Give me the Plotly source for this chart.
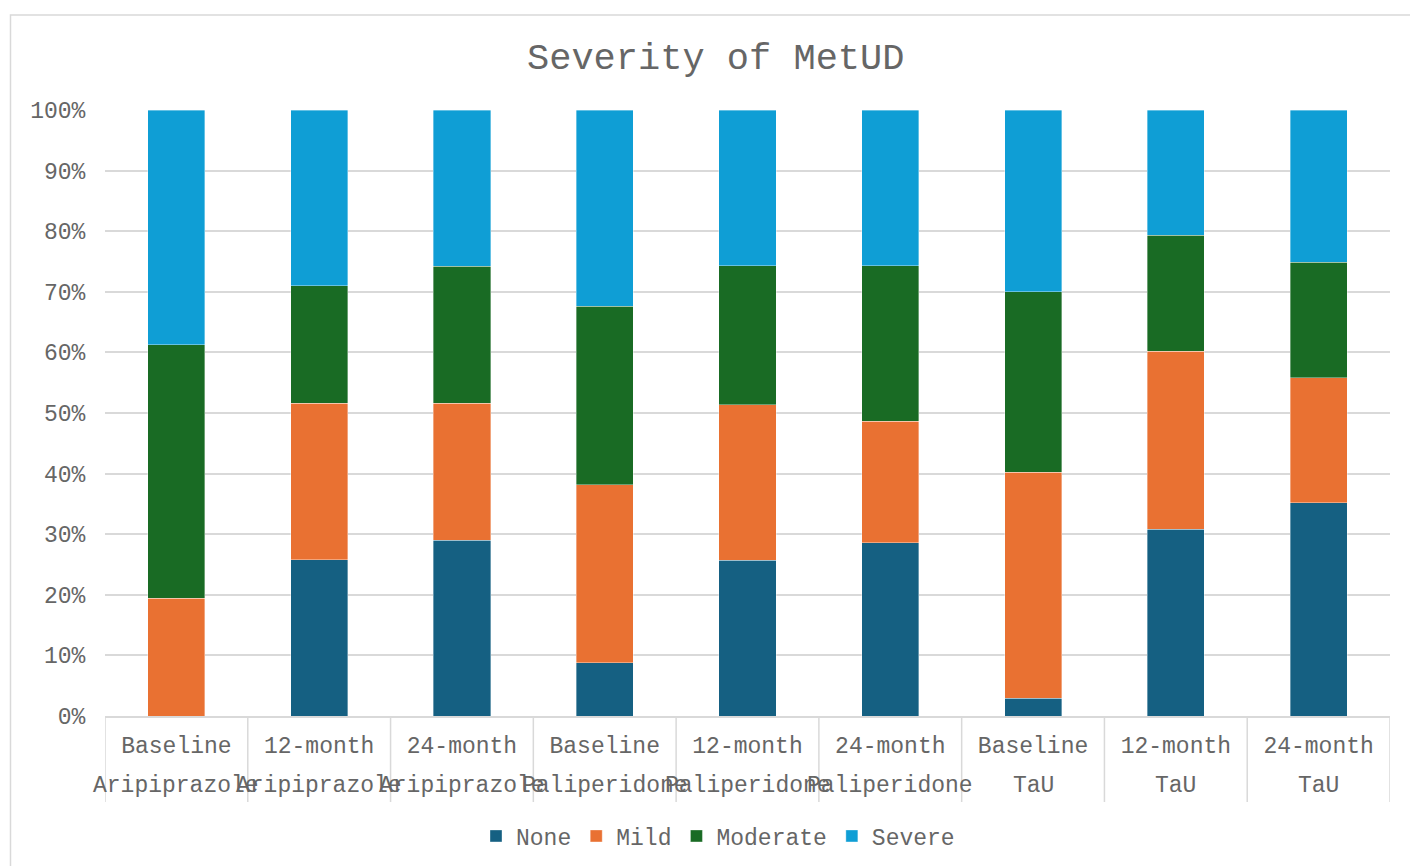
import plotly.graph_objects as go

# Timepoints (first label row) and treatment arms (second label row)
timepoints = ["Baseline", "12-month", "24-month",
              "Baseline", "12-month", "24-month",
              "Baseline", "12-month", "24-month"]
arms = ["Aripiprazole", "Aripiprazole", "Aripiprazole",
        "Paliperidone", "Paliperidone", "Paliperidone",
        "TaU", "TaU", "TaU"]

# Share of patients (%) in each severity class
none_pct = [0.0, 25.8, 29.0, 8.8, 25.7, 28.6, 2.9, 30.8, 35.2]
mild_pct = [19.4, 25.8, 22.6, 29.4, 25.7, 20.0, 37.3, 29.4, 20.6]
moderate_pct = [41.9, 19.4, 22.6, 29.4, 22.9, 25.7, 29.8, 19.1, 19.1]
severe_pct = [38.7, 29.0, 25.8, 32.4, 25.7, 25.7, 30.0, 20.7, 25.1]

FONT = "Courier New, Liberation Mono, monospace"
TEXT = "#666666"
GRID = "#d9d9d9"

W, H = 1410, 866
ML, MR, MT, MB = 105, 20, 110, 150
PW, PH = W - ML - MR, H - MT - MB


def px_to_paper_x(px):
    return (px - ML) / PW


def px_to_paper_y(py):
    return (H - MB - py) / PH


positions = list(range(len(timepoints)))

series = [
    ("None", none_pct, "#156082"),
    ("Mild", mild_pct, "#E97132"),
    ("Moderate", moderate_pct, "#196B24"),
    ("Severe", severe_pct, "#0F9ED5"),
]

fig = go.Figure()
for name, vals, color in series:
    fig.add_trace(go.Bar(
        x=positions, y=vals, name=name, width=0.4,
        marker=dict(color=color, line=dict(color="rgba(255,255,255,0.45)", width=0.8)),
    ))

# Category dividers below the axis
shapes = []
for i in range(len(positions) + 1):
    shapes.append(dict(type="line", xref="x", yref="paper",
                       x0=i - 0.5, x1=i - 0.5, y0=0, y1=px_to_paper_y(802),
                       line=dict(color=GRID, width=1.5)))
# Chart frame
shapes.append(dict(type="rect", xref="paper", yref="paper",
                   x0=px_to_paper_x(10.5), x1=px_to_paper_x(1425),
                   y0=px_to_paper_y(880), y1=px_to_paper_y(15),
                   line=dict(color=GRID, width=1.5), fillcolor="rgba(0,0,0,0)", layer="below"))

# Second label row: treatment arm under each bar
annotations = []
for p, arm in zip(positions, arms):
    annotations.append(dict(x=p, xref="x", y=px_to_paper_y(786), yref="paper",
                            text=arm, showarrow=False, yanchor="middle", xanchor="center",
                            font=dict(family=FONT, size=23, color=TEXT)))

# Title
annotations.append(dict(text="Severity of MetUD",
                        xref="paper", x=px_to_paper_x(715), xanchor="center",
                        yref="paper", y=px_to_paper_y(59), yanchor="middle",
                        showarrow=False, font=dict(family=FONT, size=37, color=TEXT)))

fig.update_layout(
    width=W, height=H, autosize=False,
    margin=dict(l=ML, r=MR, t=MT, b=MB, autoexpand=False),
    paper_bgcolor="white", plot_bgcolor="white",
    barmode="stack", bargap=0.6,
    font=dict(family=FONT, size=23, color=TEXT),
    xaxis=dict(range=[-0.5, len(positions) - 0.5], tickmode="array",
               tickvals=positions, ticktext=timepoints, tickangle=0,
               showline=True, linecolor=GRID, linewidth=1.5,
               showgrid=False, zeroline=False, ticks="outside", ticklen=8,
               tickcolor="rgba(0,0,0,0)",
               tickfont=dict(family=FONT, size=23, color=TEXT)),
    yaxis=dict(range=[0, 100], tickmode="linear", tick0=0, dtick=10, ticksuffix="%",
               showgrid=True, gridcolor=GRID, gridwidth=1.5, zeroline=False,
               showline=False, ticks="outside", ticklen=14, tickcolor="rgba(0,0,0,0)",
               tickfont=dict(family=FONT, size=23, color=TEXT)),
    legend=dict(orientation="h", x=px_to_paper_x(718), xanchor="center",
                y=px_to_paper_y(836), yanchor="middle",
                font=dict(family=FONT, size=23, color=TEXT), traceorder="normal"),
    shapes=shapes, annotations=annotations,
)

fig.write_html("out.html")
